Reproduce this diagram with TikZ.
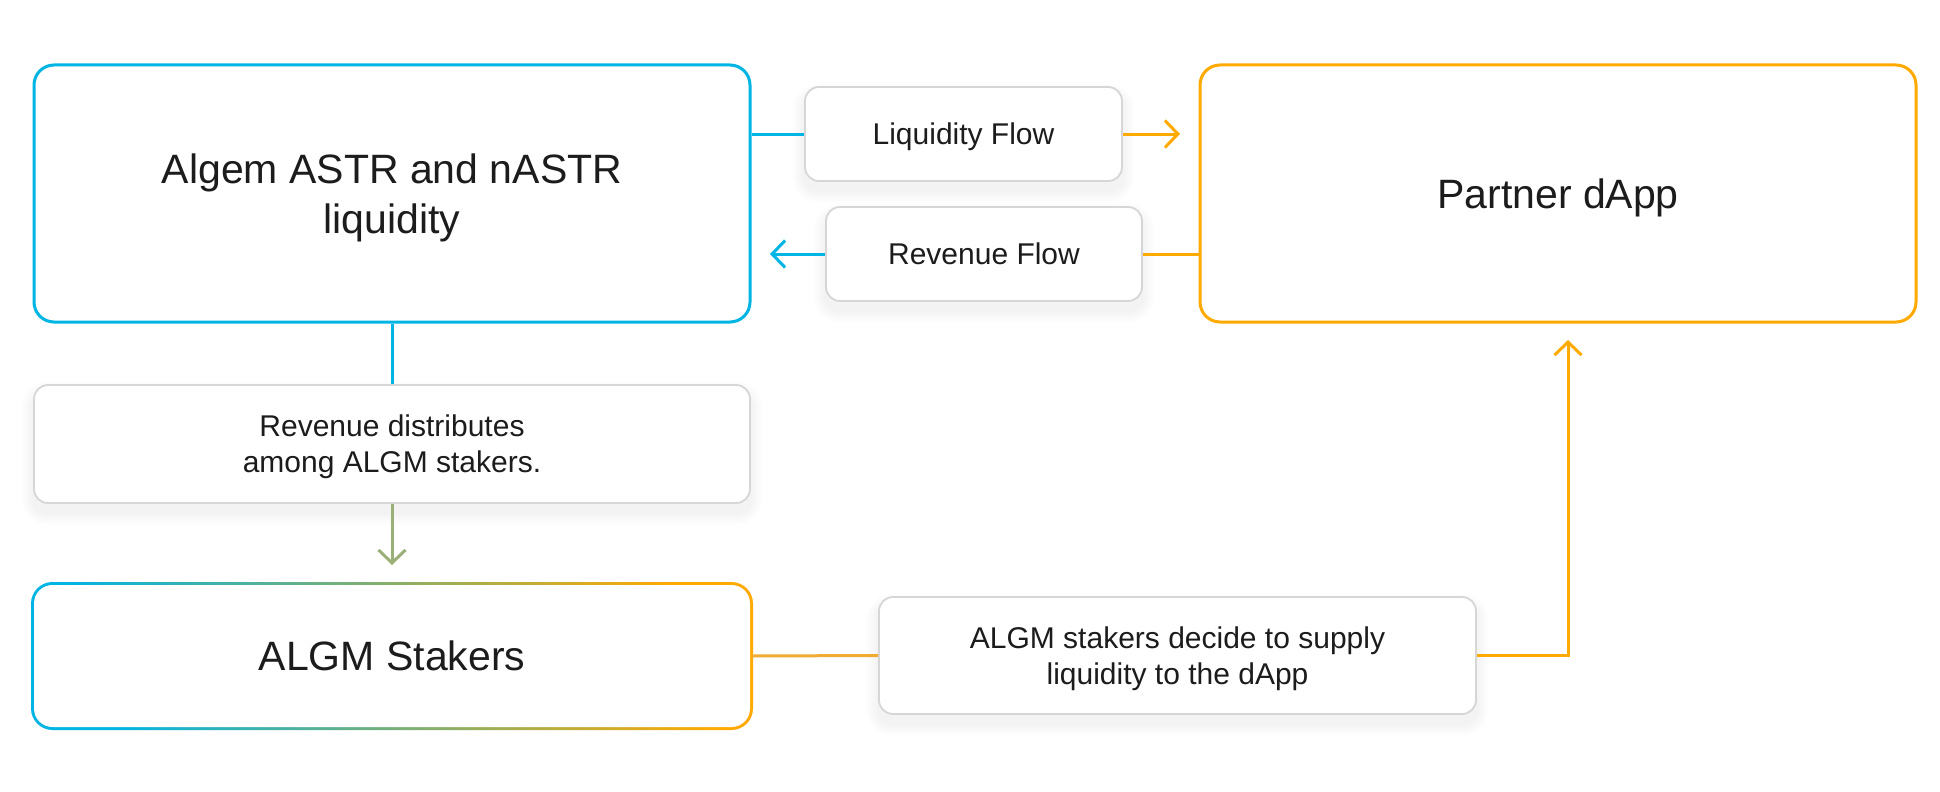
\documentclass[tikz,border=0pt]{standalone}
\usepackage{fontspec}
\setmainfont{Liberation Sans}
\usetikzlibrary{arrows.meta,backgrounds}
\definecolor{cblue}{RGB}{0,180,228}
\definecolor{corange}{RGB}{255,170,0}
\definecolor{corangem}{RGB}{240,172,50}
\definecolor{cmid}{RGB}{155,176,120}
\definecolor{cgray}{RGB}{214,214,214}
\definecolor{ctext}{RGB}{28,28,28}
\newcommand\lblshadow[1]{%
  \foreach \i in {1,...,12}{%
    \pgfmathsetmacro\rr{14+\i}%
    \fill[black, opacity=0.0055, rounded corners=\rr pt]
      ([shift={(-\i,-\i+9)}]#1.north west) rectangle ([shift={(\i,\i+9)}]#1.south east);}}
\begin{document}
\begin{tikzpicture}[x=1pt,y=-1pt,
  bigbox/.style={rectangle, rounded corners=20pt, line width=3pt, minimum width=716pt,
    text=ctext, font=\fontsize{41}{50}\selectfont, align=center, inner sep=0pt, text depth=0pt},
  labelbox/.style={rectangle, rounded corners=14pt, draw=cgray, line width=1.8pt, fill=white,
    text=ctext, font=\fontsize{30}{36}\selectfont, align=center, inner sep=0pt, text depth=0pt},
  conn/.style={line width=3pt},
  tipped/.style={-{Straight Barb[length=13pt,width=27pt]}}
]
\path[use as bounding box] (0,0) rectangle (1940,792);

% main boxes
\node[bigbox, draw=cblue, minimum height=257pt] (algem) at (392,193.5) {Algem ASTR and nASTR\\liquidity};
\node[bigbox, draw=corange, minimum height=257pt] (partner) at (1558,193.5) {Partner dApp};
\node[bigbox, minimum height=142pt] (stakers) at (392,656) {ALGM Stakers};

% label boxes
\node[labelbox, minimum width=317pt, minimum height=94pt] (liq) at (963.5,134) {Liquidity Flow};
\node[labelbox, minimum width=316pt, minimum height=94pt] (rev) at (984,254) {Revenue Flow};
\node[labelbox, minimum width=716pt, minimum height=118pt] (dist) at (392,444) {Revenue distributes\\among ALGM stakers.};
\node[labelbox, minimum width=597pt, minimum height=117pt] (decide) at (1177.5,655.5) {ALGM stakers decide to supply\\liquidity to the dApp};

% background, gradient border, shadows
\begin{scope}[on background layer]
  \fill[white] (0,0) rectangle (1940,792);
  \shade[left color=cblue, right color=corange, shading angle=108, rounded corners=21.5pt]
    ([shift={(-1.5,-1.5)}]stakers.north west) rectangle ([shift={(1.5,1.5)}]stakers.south east);
  \fill[white, rounded corners=18.5pt]
    ([shift={(1.5,1.5)}]stakers.north west) rectangle ([shift={(-1.5,-1.5)}]stakers.south east);
  \lblshadow{liq}
  \lblshadow{rev}
  \lblshadow{dist}
  \lblshadow{decide}
\end{scope}

% connectors
\coordinate (liqtip) at (1180,134);
\coordinate (revtip) at (770,254);
\coordinate (disttip) at (392,565);
\coordinate (uptip) at (1568,340);

\draw[conn, cblue] (algem.east |- liq.west) -- (liq.west);
\draw[conn, corange, tipped] (liq.east) -- (liqtip);
\draw[conn, corange] (partner.west |- rev.east) -- (rev.east);
\draw[conn, cblue, tipped] (rev.west) -- (revtip);
\draw[conn, cblue] (algem.south) -- (dist.north);
\draw[conn, cmid, tipped] (dist.south) -- (disttip);
\draw[conn, corangem] (stakers.east) -- (decide.west);
\draw[conn, corange, tipped] (decide.east) -| (uptip);
\end{tikzpicture}
\end{document}
